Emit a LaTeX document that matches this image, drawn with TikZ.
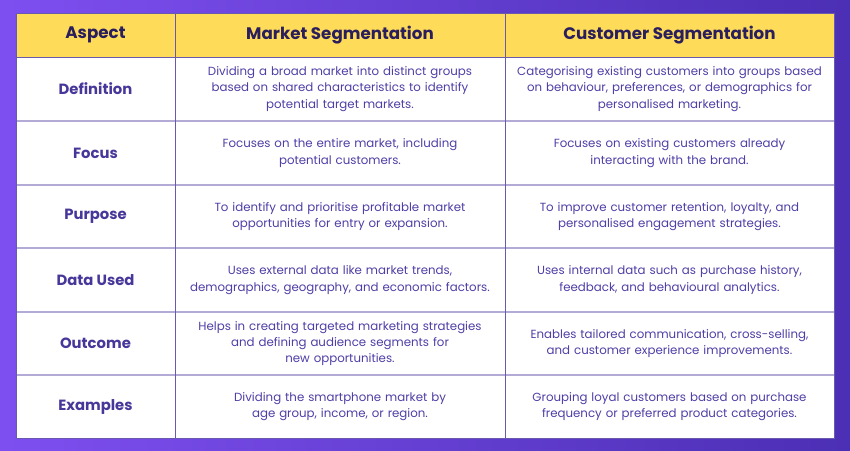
\documentclass[tikz,border=0pt]{standalone}
\usepackage{fontspec}
\setmainfont{Poppins}
\definecolor{bgleft}{HTML}{7E4FF0}
\definecolor{bgright}{HTML}{4B2FB4}
\definecolor{headfill}{HTML}{FFDB5A}
\definecolor{headtext}{HTML}{2A1F5C}
\definecolor{aspecttext}{HTML}{47379A}
\definecolor{bodytext}{HTML}{4E3FA6}
\definecolor{gridline}{HTML}{6A5AAE}
\definecolor{rowline}{HTML}{B3AAD6}
\begin{document}
\begin{tikzpicture}[x=1pt,y=-1pt]
        % Define styles
        \tikzset{
            head/.style={font=\bfseries\fontsize{16.7}{20}\selectfont, text=headtext},
            aspect/.style={font=\bfseries\fontsize{14.8}{18}\selectfont, text=aspecttext},
            cell/.style={font=\fontsize{11.8}{16.2}\selectfont, text=bodytext, align=center, text width=320pt}
        }
        % Background
        \shade[left color=bgleft, right color=bgright] (0,0) rectangle (850,450);
        \useasboundingbox (0,0) rectangle (850,450);
        % Table body and header
        \fill[white] (16,57) rectangle (834,438);
        \fill[headfill] (16,13) rectangle (834,57);
        \foreach \y in {121,185,248,312,375}
            \draw[rowline, line width=1.2pt] (16,\y) -- (834,\y);
        \draw[gridline] (16,57) -- (834,57);
        \draw[gridline] (175,13) -- (175,438);
        \draw[gridline] (505,13) -- (505,438);
        \draw[gridline] (16,13) rectangle (834,438);
        % Header
        \node[head] (h1) at (95.5,35) {Aspect};
        \node[head] (h2) at (340,35) {Market Segmentation};
        \node[head] (h3) at (669.5,35) {Customer Segmentation};
        % Rows
        \node[aspect] (a1) at (95.5,89) {Definition};
        \node[cell] (m1) at (340,89) {Dividing a broad market into distinct groups\\based on shared characteristics to identify\\potential target markets.};
        \node[cell] (c1) at (669.5,89) {Categorising existing customers into groups based\\on behaviour, preferences, or demographics for\\personalised marketing.};
        \node[aspect] (a2) at (95.5,153) {Focus};
        \node[cell] (m2) at (340,153) {Focuses on the entire market, including\\potential customers.};
        \node[cell] (c2) at (669.5,153) {Focuses on existing customers already\\interacting with the brand.};
        \node[aspect] (a3) at (95.5,216.5) {Purpose};
        \node[cell] (m3) at (340,216.5) {To identify and prioritise profitable market\\opportunities for entry or expansion.};
        \node[cell] (c3) at (669.5,216.5) {To improve customer retention, loyalty, and\\personalised engagement strategies.};
        \node[aspect] (a4) at (95.5,280) {Data Used};
        \node[cell] (m4) at (340,280) {Uses external data like market trends,\\demographics, geography, and economic factors.};
        \node[cell] (c4) at (669.5,280) {Uses internal data such as purchase history,\\feedback, and behavioural analytics.};
        \node[aspect] (a5) at (95.5,343.5) {Outcome};
        \node[cell] (m5) at (340,343.5) {Helps in creating targeted marketing strategies\\and defining audience segments for\\new opportunities.};
        \node[cell] (c5) at (669.5,343.5) {Enables tailored communication, cross-selling,\\and customer experience improvements.};
        \node[aspect] (a6) at (95.5,406.5) {Examples};
        \node[cell] (m6) at (340,406.5) {Dividing the smartphone market by\\age group, income, or region.};
        \node[cell] (c6) at (669.5,406.5) {Grouping loyal customers based on purchase\\frequency or preferred product categories.};
\end{tikzpicture}
\end{document}
